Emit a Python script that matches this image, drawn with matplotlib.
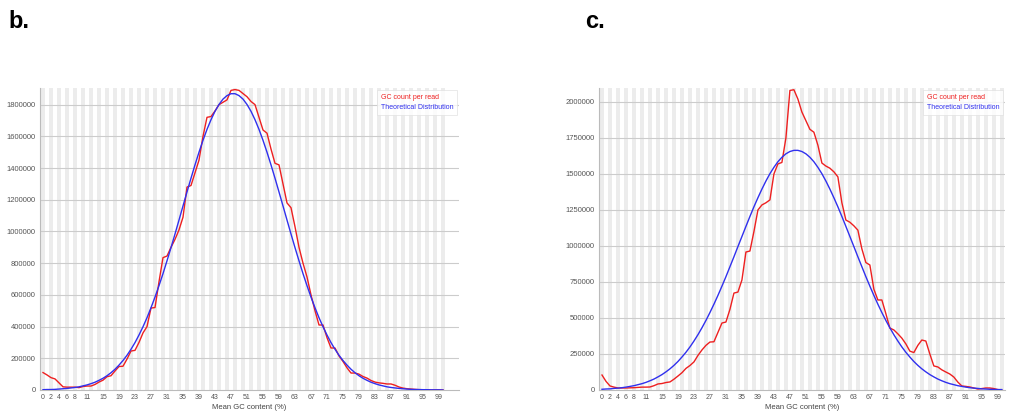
import matplotlib
matplotlib.use("Agg")
import matplotlib.pyplot as plt
import numpy as np

plt.rcParams['font.family'] = ['Liberation Sans', 'DejaVu Sans']

## Data (read counts, thousands) ##
gc_percent = np.arange(0, 101)

b_observed = [110, 95, 78, 70, 45, 20, 18, 18, 18, 15,
              22, 25, 25, 35, 50, 62, 84, 90, 120, 148,
              150, 195, 246, 250, 300, 360, 400, 517, 520, 683,
              835, 845, 900, 950, 1010, 1090, 1280, 1290, 1370, 1450,
              1600, 1720, 1725, 1760, 1800, 1815, 1830, 1890, 1895, 1890,
              1870, 1850, 1820, 1800, 1720, 1640, 1620, 1520, 1430, 1420,
              1300, 1180, 1150, 1030, 900, 800, 713, 600, 500, 410,
              410, 330, 265, 265, 215, 180, 140, 107, 107, 100,
              85, 75, 60, 50, 45, 42, 38, 38, 30, 19,
              12, 8, 6, 4, 2, 1, 1, 0, 0, 0, 0]

b_theoretical = [2, 3, 3, 4, 6, 8, 10, 13, 16, 20,
                 26, 32, 40, 49, 61, 74, 90, 109, 131, 157,
                 186, 219, 257, 299, 347, 399, 456, 519, 586, 658,
                 734, 815, 898, 984, 1072, 1161, 1249, 1336, 1420, 1500,
                 1575, 1644, 1705, 1758, 1801, 1835, 1857, 1869, 1869, 1857,
                 1835, 1801, 1758, 1705, 1644, 1575, 1500, 1420, 1336, 1249,
                 1161, 1072, 984, 898, 815, 734, 658, 586, 519, 456,
                 399, 347, 299, 257, 219, 186, 157, 131, 109, 90,
                 74, 61, 49, 40, 32, 26, 20, 16, 13, 10,
                 8, 6, 4, 3, 3, 2, 2, 1, 1, 1, 0]

c_observed = [104, 60, 28, 20, 14, 14, 14, 15, 16, 18,
              20, 20, 21, 30, 42, 45, 52, 56, 75, 97,
              120, 150, 170, 195, 240, 278, 310, 333, 335, 400,
              465, 472, 560, 673, 680, 764, 958, 965, 1100, 1250,
              1285, 1300, 1320, 1500, 1570, 1580, 1750, 2080, 2085, 2020,
              1930, 1870, 1810, 1790, 1700, 1576, 1555, 1540, 1515, 1480,
              1300, 1180, 1165, 1140, 1110, 980, 885, 868, 700, 625,
              625, 530, 430, 417, 390, 360, 320, 270, 260, 310,
              347, 340, 250, 167, 160, 140, 125, 111, 90, 55,
              28, 25, 21, 14, 7, 10, 14, 14, 10, 3, 0]

c_theoretical = [5, 7, 8, 11, 13, 16, 20, 25, 30, 37,
                 44, 53, 64, 76, 91, 107, 126, 147, 171, 198,
                 229, 262, 299, 340, 384, 432, 483, 538, 596, 657,
                 721, 787, 856, 925, 996, 1066, 1136, 1205, 1272, 1335,
                 1395, 1451, 1502, 1546, 1585, 1616, 1640, 1656, 1664, 1664,
                 1656, 1640, 1616, 1585, 1546, 1502, 1451, 1395, 1335, 1272,
                 1205, 1136, 1066, 996, 925, 856, 787, 721, 657, 596,
                 538, 483, 432, 384, 340, 299, 262, 229, 198, 171,
                 147, 126, 107, 91, 76, 64, 53, 44, 37, 30,
                 25, 20, 16, 13, 11, 8, 7, 5, 4, 3, 3]

x_tick_labels = [0, 2, 4, 6, 8, 11] + list(range(15, 100, 4))
b_yticks = list(range(0, 1800001, 200000))
c_yticks = list(range(0, 2000001, 250000))


def gc_panel(ax, observed, theoretical, yticks, ymax, xmax):
    # alternating background band for every other GC bin
    for i in range(0, 101, 2):
        ax.axvspan(i - 0.5, i + 0.5, color='#ececec', lw=0, zorder=0)
    for y in yticks[1:]:
        ax.axhline(y, color='#cccccc', lw=0.8, zorder=1)

    ax.plot(gc_percent, np.array(observed) * 1000, color='#ee2020', lw=1.0,
            label='GC count per read', zorder=3)
    ax.plot(gc_percent, np.array(theoretical) * 1000, color='#3030ee', lw=1.0,
            label='Theoretical Distribution', zorder=3)

    ax.set_xlim(-0.75, xmax)
    ax.set_ylim(0, ymax)
    ax.set_xticks(x_tick_labels)
    ax.set_xticklabels([str(v) for v in x_tick_labels], fontsize=5, color='#555555')
    ax.set_yticks(yticks)
    ax.set_yticklabels([str(v) for v in yticks], fontsize=5.5, color='#555555')
    ax.tick_params(length=0, pad=3)
    ax.set_xlabel('Mean GC content (%)', fontsize=5.5, color='#444444', labelpad=2)

    for side in ['top', 'right']:
        ax.spines[side].set_visible(False)
    for side in ['left', 'bottom']:
        ax.spines[side].set_color('#bbbbbb')
        ax.spines[side].set_linewidth(0.8)

    leg = ax.legend(loc='upper right', fontsize=5, handlelength=0, handletextpad=0,
                    frameon=True, fancybox=False, edgecolor='#e0e0e0',
                    borderaxespad=0.3, borderpad=0.5, labelspacing=0.5)
    leg.get_frame().set_linewidth(0.6)
    for txt, col in zip(leg.get_texts(), ['#ee2020', '#3030ee']):
        txt.set_color(col)
    for h in leg.legend_handles:
        h.set_visible(False)


fig = plt.figure(figsize=(10.09, 4.12), dpi=100)

ax_b = fig.add_axes([40 / 1009, 22 / 412, 419 / 1009, 302 / 412])
gc_panel(ax_b, b_observed, b_theoretical, b_yticks, 1905000, 104)

ax_c = fig.add_axes([599 / 1009, 22 / 412, 406 / 1009, 302 / 412])
gc_panel(ax_c, c_observed, c_theoretical, c_yticks, 2097000, 100.8)

fig.text(8 / 1009, 1 - 22 / 412, 'b.', fontsize=17, fontweight='bold', va='center', ha='left')
fig.text(585 / 1009, 1 - 22 / 412, 'c.', fontsize=17, fontweight='bold', va='center', ha='left')

plt.savefig('out.png', dpi=100)
plt.close()
